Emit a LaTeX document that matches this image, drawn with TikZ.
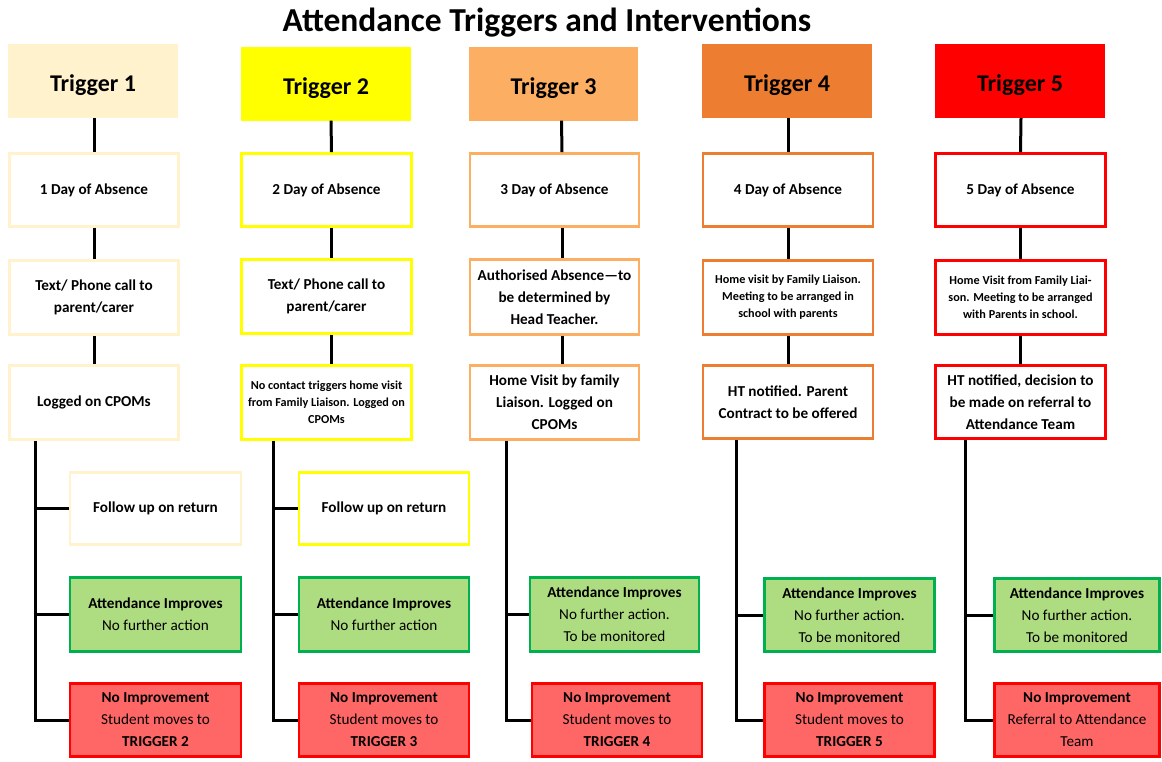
\documentclass[tikz,border=0pt]{standalone}
\usepackage{fontspec}
\setmainfont{Carlito}
\definecolor{tone}{HTML}{FFF2CC}
\definecolor{ttwo}{HTML}{FFFF00}
\definecolor{tthree}{HTML}{FCAF62}
\definecolor{tfour}{HTML}{ED7D31}
\definecolor{tfive}{HTML}{FF0000}
\definecolor{grnb}{HTML}{00B050}
\definecolor{grnf}{HTML}{AEDC80}
\definecolor{redb}{HTML}{FF0000}
\definecolor{redf}{HTML}{FF6666}
\begin{document}
\begin{tikzpicture}[x=1pt,y=-1pt,
  box/.style={draw, line width=2.6pt, fill=white, align=center, inner sep=1pt,
    font=\fontsize{15.2}{22}\selectfont\bfseries},
  small/.style={font=\fontsize{12.2}{17}\selectfont\bfseries},
  head/.style={inner sep=0pt, minimum width=170pt, minimum height=74pt,
    text height=21pt, text depth=0pt,
    font=\fontsize{24}{26}\selectfont\bfseries},
  good/.style={box, draw=grnb, fill=grnf, font=\fontsize{15.2}{22}\selectfont},
  bad/.style={box, draw=redb, fill=redf, font=\fontsize{15.2}{22}\selectfont},
  conn/.style={line width=3pt, black}]
\useasboundingbox (0,0) rectangle (1162,761);

\node[font=\fontsize{33.5}{36}\selectfont\bfseries] (title) at (547,23) {Attendance Triggers and Interventions};

% ---------- column 1
\node[head, fill=tone] (h1) at (93,81) {Trigger 1};
\node[box, draw=tone, minimum width=169, minimum height=73] (a1) at (94,190) {1 Day of Absence};
\node[box, draw=tone, minimum width=169, minimum height=74] (b1) at (94,297.5) {Text/ Phone call to\\parent/carer};
\node[box, draw=tone, minimum width=169, minimum height=74] (c1) at (94,402.5) {Logged on CPOMs};
\node[box, draw=tone, minimum width=171, minimum height=72] (f1) at (155.5,508.5) {Follow up on return};
\node[good, minimum width=171, minimum height=74] (g1) at (155.5,614.5) {\textbf{Attendance Improves}\\No further action};
\node[bad, minimum width=171, minimum height=73] (n1) at (155.5,720) {\textbf{No Improvement}\\Student moves to\\\textbf{TRIGGER 2}};
\coordinate (s1) at (35,0);
\draw[conn] ([xshift=1]h1.south) -- (a1.north);
\draw[conn] (a1.south) -- (b1.north);
\draw[conn] (b1.south) -- (c1.north);
\draw[conn] (c1.south -| s1) |- (n1.west);
\draw[conn] (s1 |- f1.west) -- (f1.west);
\draw[conn] (s1 |- g1.west) -- (g1.west);

% ---------- column 2
\node[head, fill=ttwo] (h2) at (326,83.5) {Trigger 2};
\node[box, draw=ttwo, minimum width=170, minimum height=73] (a2) at (326.5,190) {2 Day of Absence};
\node[box, draw=ttwo, minimum width=170, minimum height=74] (b2) at (326.5,296.5) {Text/ Phone call to\\parent/carer};
\node[box, draw=ttwo, small, minimum width=170, minimum height=74] (c2) at (326.5,402.5) {No contact triggers home visit\\from Family Liaison. Logged on\\CPOMs};
\node[box, draw=ttwo, minimum width=170, minimum height=72] (f2) at (384,508.5) {Follow up on return};
\node[good, minimum width=170, minimum height=74] (g2) at (384,614.5) {\textbf{Attendance Improves}\\No further action};
\node[bad, minimum width=170, minimum height=73] (n2) at (384,720) {\textbf{No Improvement}\\Student moves to\\\textbf{TRIGGER 3}};
\coordinate (s2) at (273,0);
\draw[conn] ([xshift=5]h2.south) -- ([xshift=5]a2.north);
\draw[conn] ([xshift=5]a2.south) -- ([xshift=5]b2.north);
\draw[conn] ([xshift=5]b2.south) -- ([xshift=5]c2.north);
\draw[conn] (c2.south -| s2) |- (n2.west);
\draw[conn] (s2 |- f2.west) -- (f2.west);
\draw[conn] (s2 |- g2.west) -- (g2.west);

% ---------- column 3
\node[head, fill=tthree, minimum width=169] (h3) at (553.5,83.5) {Trigger 3};
\node[box, draw=tthree, minimum width=169, minimum height=73] (a3) at (554.5,190) {3 Day of Absence};
\node[box, draw=tthree, minimum width=169, minimum height=75] (b3) at (554.5,297) {Authorised Absence—to\\be determined by\\Head Teacher.};
\node[box, draw=tthree, minimum width=169, minimum height=74] (c3) at (554.5,402.5) {Home Visit by family\\Liaison. Logged on\\CPOMs};
\node[good, minimum width=169, minimum height=74] (g3) at (614.5,614.5) {\textbf{Attendance Improves}\\No further action.\\To be monitored};
\node[bad, minimum width=170, minimum height=73] (n3) at (617,720) {\textbf{No Improvement}\\Student moves to\\\textbf{TRIGGER 4}};
\coordinate (s3) at (506,0);
\draw[conn] ([xshift=8]h3.south) -- ([xshift=7.5]a3.north);
\draw[conn] ([xshift=7.5]a3.south) -- ([xshift=7.5]b3.north);
\draw[conn] ([xshift=7.5]b3.south) -- ([xshift=7.5]c3.north);
\draw[conn] (c3.south -| s3) |- (n3.west);
\draw[conn] (s3 |- g3.west) -- (g3.west);

% ---------- column 4
\node[head, fill=tfour] (h4) at (787,81) {Trigger 4};
\node[box, draw=tfour, minimum width=170, minimum height=73] (a4) at (788,190) {4 Day of Absence};
\node[box, draw=tfour, small, minimum width=170, minimum height=74] (b4) at (788,297.5) {Home visit by Family Liaison.\\Meeting to be arranged in\\school with parents};
\node[box, draw=tfour, minimum width=170, minimum height=73] (c4) at (788,402) {HT notified. Parent\\Contract to be offered};
\node[good, minimum width=170, minimum height=73] (g4) at (849.5,615) {\textbf{Attendance Improves}\\No further action.\\To be monitored};
\node[bad, minimum width=170, minimum height=73] (n4) at (849.5,720) {\textbf{No Improvement}\\Student moves to\\\textbf{TRIGGER 5}};
\coordinate (s4) at (736,0);
\draw[conn] ([xshift=1]h4.south) -- (a4.north);
\draw[conn] (a4.south) -- (b4.north);
\draw[conn] (b4.south) -- (c4.north);
\draw[conn] (c4.south -| s4) |- (n4.west);
\draw[conn] (s4 |- g4.west) -- (g4.west);

% ---------- column 5
\node[head, fill=tfive] (h5) at (1020,81) {Trigger 5};
\node[box, draw=tfive, minimum width=170, minimum height=73] (a5) at (1020.5,190) {5 Day of Absence};
\node[box, draw=tfive, small, minimum width=170, minimum height=74] (b5) at (1020.5,297.5) {Home Visit from Family Liai-\\son. Meeting to be arranged\\with Parents in school.};
\node[box, draw=tfive, minimum width=170, minimum height=73] (c5) at (1020.5,402) {HT notified, decision to\\be made on referral to\\Attendance Team};
\node[good, minimum width=165, minimum height=73] (g5) at (1077,615) {\textbf{Attendance Improves}\\No further action.\\To be monitored};
\node[bad, minimum width=165, minimum height=73] (n5) at (1077,720) {\textbf{No Improvement}\\Referral to Attendance\\Team};
\coordinate (s5) at (965,0);
\draw[conn] ([xshift=1]h5.south) -- (a5.north);
\draw[conn] (a5.south) -- (b5.north);
\draw[conn] (b5.south) -- (c5.north);
\draw[conn] (c5.south -| s5) |- (n5.west);
\draw[conn] (s5 |- g5.west) -- (g5.west);
\end{tikzpicture}
\end{document}
